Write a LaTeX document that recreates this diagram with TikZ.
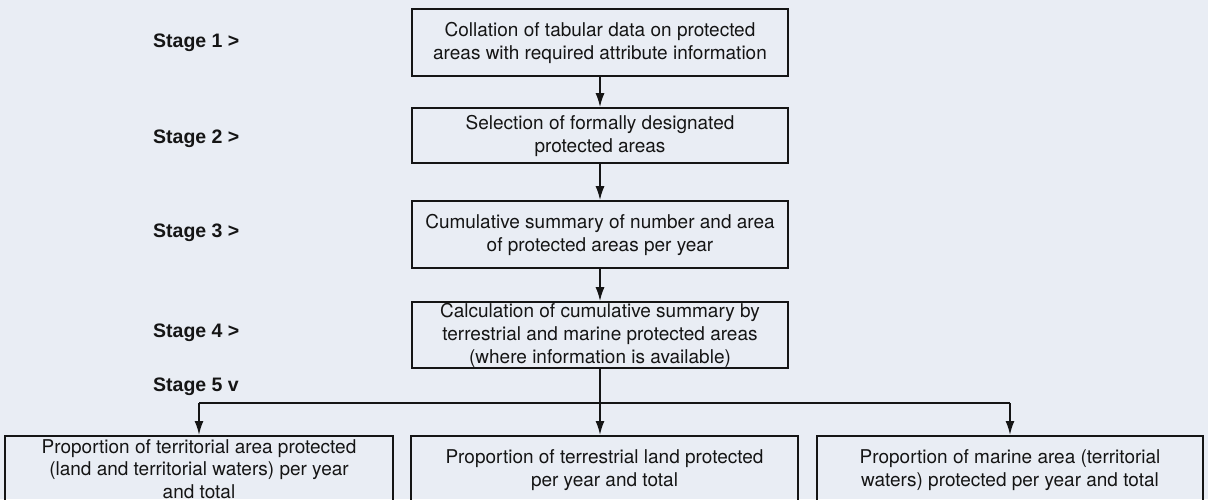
\documentclass[tikz,border=0pt]{standalone}
\usepackage{fontspec}
\setmainfont{TeX Gyre Heros}
\newfontfamily\lblfont{Liberation Sans}
\usetikzlibrary{arrows.meta}
\definecolor{bg}{HTML}{E9EDF4}
\definecolor{ink}{HTML}{151515}
\begin{document}
\begin{tikzpicture}[x=1pt,y=-1pt,
  box/.style={draw=ink,line width=1.6pt,fill=none,align=center,inner sep=0pt,
    font=\fontsize{19}{23}\selectfont,text=ink},
  stagelbl/.style={anchor=west,inner sep=0pt,font=\lblfont\fontsize{19.5}{23}\selectfont\bfseries,text=ink},
  conn/.style={draw=ink,line width=1.8pt},
  arr/.style={conn,-{Latex[length=14pt,width=9pt]}}]
\useasboundingbox (0,0) rectangle (1208,499);
\clip (0,0) rectangle (1208,499);
\fill[bg] (0,0) rectangle (1208,499);
% main boxes
\node[box,minimum width=376pt,minimum height=67pt] (b1) at (600,42.5) {Collation of tabular data on protected\\areas with required attribute information};
\node[box,minimum width=376pt,minimum height=55pt] (b2) at (600,135.5) {Selection of formally designated\\protected areas};
\node[box,minimum width=376pt,minimum height=67pt] (b3) at (600,234.5) {Cumulative summary of number and area\\of protected areas per year};
\node[box,minimum width=376pt,minimum height=66pt] (b4) at (600,335) {Calculation of cumulative summary by\\terrestrial and marine protected areas\\(where information is available)};
% bottom boxes
\node[box,minimum width=388pt,minimum height=66pt,anchor=north,font=\fontsize{19}{22.5}\selectfont] (c1) at (199,435) {Proportion of territorial area protected\\(land and territorial waters) per year\\and total};
\node[box,minimum width=387pt,minimum height=68pt,anchor=north] (c2) at (604.5,435) {Proportion of terrestrial land protected\\per year and total};
\node[box,minimum width=386pt,minimum height=68pt,anchor=north] (c3) at (1010,435) {Proportion of marine area (territorial\\waters) protected per year and total};
% stage labels
\node[stagelbl] (s1) at (153,43) {Stage 1 >};
\node[stagelbl] (s2) at (153,139) {Stage 2 >};
\node[stagelbl] (s3) at (153,233) {Stage 3 >};
\node[stagelbl] (s4) at (153,333) {Stage 4 >};
\node[stagelbl] (s5) at (153,387) {Stage 5 v};
% connectors
\coordinate (hl) at (c1.north |- 0,403);
\coordinate (hr) at (c3.north |- 0,403);
\draw[arr] (b1.south) -- (b2.north);
\draw[arr] (b2.south) -- (b3.north);
\draw[arr] (b3.south) -- (b4.north);
\draw[arr] (b4.south) -- (b4.south |- c2.north);
\draw[conn] (hl) -- (hr);
\draw[arr] (hl) -- (c1.north);
\draw[arr] (hr) -- (c3.north);
\end{tikzpicture}
\end{document}
